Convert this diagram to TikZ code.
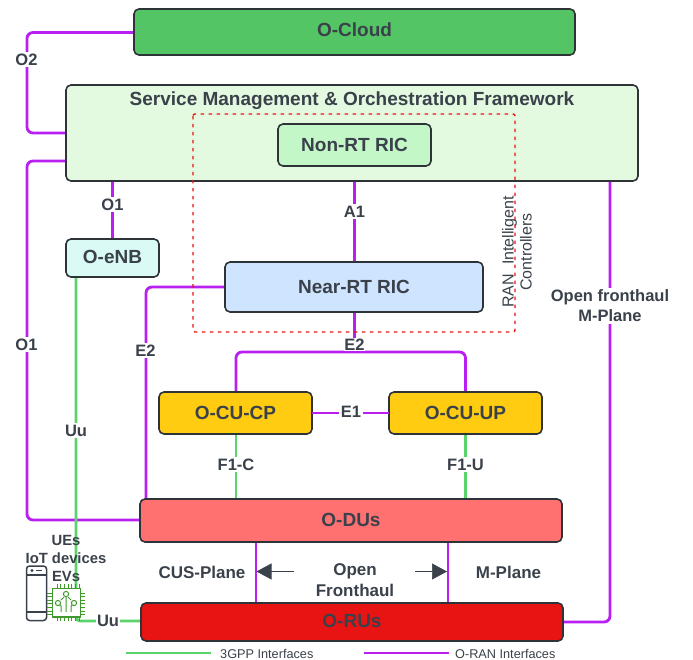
\documentclass[tikz,border=0pt]{standalone}
\usepackage{fontspec}
\setmainfont{Liberation Sans}
\usetikzlibrary{arrows.meta}
\definecolor{ink}{HTML}{3A414A}
\definecolor{edge}{HTML}{2E3338}
\definecolor{violetline}{HTML}{B81FF0}
\definecolor{greenline}{HTML}{5BD36B}
\definecolor{chipgreen}{HTML}{3F9A2B}
\definecolor{dashred}{HTML}{E81313}
\tikzset{
  px/.style={x=1pt,y=-1pt},
  block/.style={draw=edge,line width=1.6pt,rounded corners=5pt,inner sep=0pt,outer sep=0pt,anchor=north west},
  blocktext/.style={inner sep=0pt,text=ink,font=\bfseries\fontsize{19}{22}\selectfont},
  oran/.style={draw=violetline,line width=2.8pt,rounded corners=6pt},
  tgpp/.style={draw=greenline,line width=2.8pt,rounded corners=4pt},
  lbl/.style={fill=white,inner sep=1.5pt,text=ink,font=\bfseries\fontsize{16.5}{20}\selectfont,align=center},
  plain/.style={inner sep=0pt,text=ink,font=\bfseries\fontsize{17}{21}\selectfont,align=center},
  legend/.style={inner sep=0pt,text=ink,font=\fontsize{12.7}{15}\selectfont,anchor=west},
  pointer/.style={draw=ink,line width=0.6pt,-{Triangle[length=15pt,width=16pt,fill=ink]}},
  pins/.style={draw=chipgreen,line width=0.9pt},
  trace/.style={draw=chipgreen,line width=1pt,fill=white}
}
\begin{document}
\begin{tikzpicture}[px]
\useasboundingbox (0,0) rectangle (693,660);
% anchor points
\coordinate (o2a) at (134,32.5);
\coordinate (o2b) at (66,133);
\coordinate (o1a) at (66,161);
\coordinate (o1b) at (140,520);
\coordinate (o1ca) at (112.5,181);
\coordinate (o1cb) at (112.5,239);
\coordinate (uua) at (76,277);
\coordinate (uub) at (141,621);
\coordinate (e2a) at (225,287);
\coordinate (e2b) at (146,499);
\coordinate (a1a) at (354.4,166);
\coordinate (a1b) at (354.4,262);
\coordinate (e2c) at (354.4,312);
\coordinate (e2d) at (354.4,352);
\coordinate (e2e) at (236,392);
\coordinate (e2f) at (465.5,392);
\coordinate (f1ca) at (236,434);
\coordinate (f1cb) at (236,499);
\coordinate (f1ua) at (465.5,434);
\coordinate (f1ub) at (465.5,499);
\coordinate (cusa) at (256,542);
\coordinate (cusb) at (256,603);
\coordinate (ma) at (447.5,542);
\coordinate (mb) at (447.5,603);
\coordinate (ofa) at (563,622);
\coordinate (ofb) at (610,181);
\coordinate (pa) at (294,571.5);
\coordinate (pb) at (256.5,571.5);
\coordinate (pc) at (415,571.5);
\coordinate (pd) at (447,571.5);
\coordinate (lg1a) at (126,653);
\coordinate (lg1b) at (211,653);
\coordinate (lg2a) at (364,653);
\coordinate (lg2b) at (449,653);
% connectors under the blocks
\draw[oran] (o2a) -- (27,32.5) -- (27,133) -- (o2b);
\draw[oran] (o1a) -- (27,161) -- (27,520) -- (o1b);
\draw[oran] (o1ca) -- (o1cb);
\draw[tgpp] (uua) -- (76,621) -- (uub);
\draw[oran] (e2a) -- (146,287) -- (e2b);
\draw[oran] (a1a) -- (a1b);
\draw[oran] (e2c) -- (e2d);
\draw[oran] (e2e) -- (236,352) -- (465.5,352) -- (e2f);
\draw[tgpp] (f1ca) -- (f1cb);
\draw[tgpp] (f1ua) -- (f1ub);
\draw[oran,line width=2pt] (cusa) -- (cusb);
\draw[oran,line width=2pt] (ma) -- (mb);
\draw[oran] (ofa) -- (610,622) -- (ofb);
% blocks
\node[block,fill={rgb,255:red,84;green,197;blue,101},minimum width=441pt,minimum height=46pt] (cloud) at (134,9) {};
\node[blocktext] (cloudt) at (354.5,30) {O-Cloud};
\node[block,fill={rgb,255:red,227;green,250;blue,224},minimum width=572pt,minimum height=96pt] (smo) at (66,85) {};
\node[blocktext] (smot) at (352,101) {Service Management \& Orchestration Framework};
\node[block,fill={rgb,255:red,195;green,247;blue,200},minimum width=153pt,minimum height=42pt] (nonrt) at (278,124) {};
\node[blocktext] (nonrtt) at (354.5,144.5) {Non-RT RIC};
\node[block,fill={rgb,255:red,217;green,250;blue,245},minimum width=93pt,minimum height=38pt] (enb) at (66,239) {};
\node[blocktext] (enbt) at (112.5,256.5) {O-eNB};
\node[block,fill={rgb,255:red,207;green,228;blue,255},minimum width=258pt,minimum height=50pt] (nearrt) at (225,262) {};
\node[blocktext] (nearrtt) at (354,286.5) {Near-RT RIC};
\node[block,fill={rgb,255:red,255;green,204;blue,17},minimum width=153pt,minimum height=42pt] (cucp) at (159,392) {};
\node[blocktext] (cucpt) at (235.5,412.5) {O-CU-CP};
\node[block,fill={rgb,255:red,255;green,204;blue,17},minimum width=153pt,minimum height=42pt] (cuup) at (389,392) {};
\node[blocktext] (cuupt) at (465.5,412.5) {O-CU-UP};
\draw[oran] (cucp.east) -- (cuup.west);
\node[block,fill={rgb,255:red,255;green,112;blue,112},minimum width=422pt,minimum height=43pt] (du) at (140,499) {};
\node[blocktext] (dut) at (351,519.5) {O-DUs};
\node[block,fill={rgb,255:red,232;green,19;blue,19},minimum width=422pt,minimum height=38pt] (ru) at (141,603) {};
\node[blocktext] (rut) at (352,620.5) {O-RUs};
% RIC frame
\draw[dashred,line width=1.4pt,dash pattern=on 3.5pt off 4.5pt,rounded corners=2pt] (193,114) rectangle (515,332);
\node[inner sep=0pt,text=ink,rotate=90,align=center,font=\fontsize{16}{18}\selectfont] (ran) at (517,252) {RAN\ \ Intelligent\\Controllers};
% connector labels
\node[lbl] (lo2) at (26.5,59.5) {O2};
\node[lbl] (lo1c) at (112.5,204.5) {O1};
\node[lbl] (la1) at (354.4,211.5) {A1};
\node[lbl] (lo1) at (26.5,344.5) {O1};
\node[lbl] (le2a) at (145.5,350.5) {E2};
\node[lbl,inner sep=0.5pt] (le2b) at (354.4,344.5) {E2};
\node[lbl] (le1) at (351,411.5) {E1};
\node[lbl] (luu) at (76,430.5) {Uu};
\node[lbl] (lf1c) at (236,464.5) {F1-C};
\node[lbl] (lf1u) at (465.5,464.5) {F1-U};
\node[lbl,inner sep=1pt] (luu2) at (108,620.5) {Uu};
\node[lbl,inner sep=2pt] (lof) at (610,306) {Open fronthaul\\M-Plane};
% plane labels
\node[plain] (lcus) at (202,572) {CUS-Plane};
\node[plain] (lopen) at (355,580.5) {Open\\Fronthaul};
\node[plain] (lm) at (508.5,572) {M-Plane};
\draw[pointer] (pa) -- (pb);
\draw[pointer] (pc) -- (pd);
% devices
\node[plain,font=\bfseries\fontsize{14.8}{18}\selectfont] (lues) at (66,558.5) {UEs\\IoT devices\\EVs};
% phone
\draw[draw=ink,line width=1.5pt,rounded corners=3pt,fill=white] (26.5,566) rectangle (46.5,620.5);
\draw[draw=ink,line width=1.3pt] (26.5,575) -- (46.5,575) (26.5,612) -- (46.5,612);
\fill[ink] (32,570.5) circle (1.6pt);
\draw[draw=ink,line width=1.3pt] (36,570.5) -- (42,570.5);
% chip
\foreach \t in {0,1,2,3,4,5,6}{
  \draw[pins] ({57+\t*3.7},584) -- ({57+\t*3.7},621);
  \draw[pins] (47,{593+\t*3.6}) -- (85,{593+\t*3.6});
}
\draw[draw=chipgreen,line width=1.1pt,fill=white] (52.5,588.5) rectangle (80.5,617);
\draw[trace] (66,612) -- (66,596) (61,612) -- (61,606) -- (58,603) (71,612) -- (71,606) -- (74,603);
\draw[trace] (61,600) -- (64,597) (71,600) -- (68,597);
\draw[trace] (66,594) circle (2.6pt) (58,603) circle (2.6pt) (74,603) circle (2.6pt);
% legend
\draw[tgpp,line width=1.5pt] (lg1a) -- (lg1b);
\node[legend] (lg1) at (220,653.5) {3GPP Interfaces};
\draw[oran,line width=1.5pt] (lg2a) -- (lg2b);
\node[legend] (lg2) at (455,653.5) {O-RAN Interfaces};
\end{tikzpicture}
\end{document}
